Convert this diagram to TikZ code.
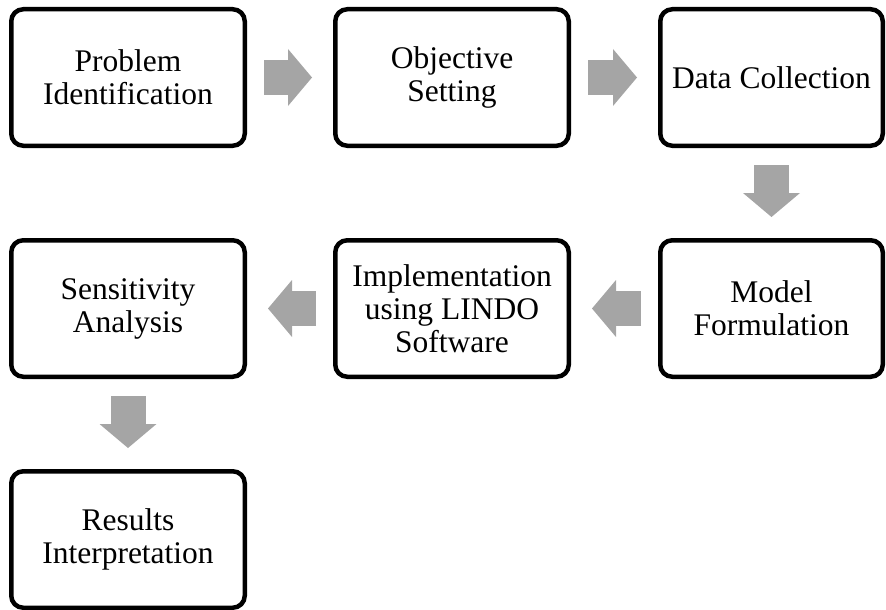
\documentclass[tikz,border=0pt]{standalone}
\usepackage{fontspec}
\setmainfont{Liberation Serif}
\usetikzlibrary{arrows.meta}
\definecolor{arrowgray}{HTML}{A5A5A5}

\begin{document}
\begin{tikzpicture}[x=1pt,y=-1pt,
    stage/.style={draw,line width=4.5pt,rounded corners=12pt,fill=white,
      align=center,inner sep=0pt,minimum width=233.5pt,minimum height=136.5pt,
      font=\fontsize{31.5}{33}\selectfont},
    flow/.style={draw=arrowgray,line width=35pt,
      -{Triangle[length=24pt,width=57pt,line width=0pt]},
      shorten <=17pt,shorten >=21pt}]
        \useasboundingbox (0,0) rectangle (886,610);
        % first row
        \node[stage] (prob) at (128,77.5) {Problem\\Identification};
        \node[stage] (obj)  at (452,77.5) {Objective\\Setting};
        \node[stage,minimum width=222.5pt] (data) at (771.5,77.5) {Data Collection};
        % second row, right to left
        \node[stage,minimum width=222.5pt] (model) at (771.5,308.5) {Model\\Formulation};
        \node[stage] (impl) at (452,308.5) {Implementation\\using LINDO\\Software};
        \node[stage] (sens) at (128,308.5) {Sensitivity\\Analysis};
        % last one
        \node[stage] (res)  at (128,539.5) {Results\\Interpretation};
        % gray block arrows
        \draw[flow] (prob) -- (obj);
        \draw[flow] (obj) -- (data);
        \draw[flow] (data) -- (model);
        \draw[flow] (model) -- (impl);
        \draw[flow] (impl) -- (sens);
        \draw[flow] (sens) -- (res);
      \end{tikzpicture}
\end{document}
